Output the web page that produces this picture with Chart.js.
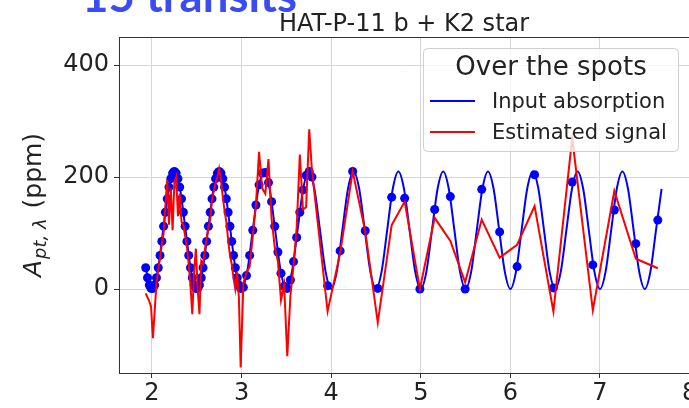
<!DOCTYPE html>
<html>
<head>
<meta charset="utf-8">
<title>HAT-P-11 b + K2 star</title>
<script src="https://cdn.jsdelivr.net/npm/chart.js@4.4.1/dist/chart.umd.min.js"></script>
<style>
    html, body { margin: 0; padding: 0; background: #fff; overflow: hidden; }
    #wrap { width: 689px; height: 408px; overflow: hidden; position: relative; }
    canvas { display: block; }
</style>
</head>
<body>
<div id="wrap"><canvas id="chart" width="700" height="408"></canvas></div>
<script>
// Courbe d'entrée (absorption injectée)
const curveX = [
    1.9375,
    2, 2.0625, 2.125, 2.1875, 2.25, 2.3125, 2.375, 2.4375,
    2.5, 2.5625, 2.625, 2.6875, 2.75, 2.8125, 2.875, 2.9375,
    3, 3.0625, 3.125, 3.1875, 3.25, 3.3125, 3.375, 3.4375,
    3.5, 3.5625, 3.625, 3.6875, 3.75, 3.8125, 3.875, 3.9375,
    4, 4.0625, 4.125, 4.1875, 4.25, 4.3125, 4.375, 4.4375,
    4.5, 4.5625, 4.625, 4.6875, 4.75, 4.8125, 4.875, 4.9375,
    5, 5.0625, 5.125, 5.1875, 5.25, 5.3125, 5.375, 5.4375,
    5.5, 5.5625, 5.625, 5.6875, 5.75, 5.8125, 5.875, 5.9375,
    6, 6.0625, 6.125, 6.1875, 6.25, 6.3125, 6.375, 6.4375,
    6.5, 6.5625, 6.625, 6.6875, 6.75, 6.8125, 6.875, 6.9375,
    7, 7.0625, 7.125, 7.1875, 7.25, 7.3125, 7.375, 7.4375,
    7.5, 7.5625, 7.625, 7.6875
];
const curveY = [
    31,
    0, 31, 105, 179, 210, 179, 105, 31,
    0, 31, 105, 179, 210, 179, 105, 31,
    0, 31, 105, 179, 210, 179, 105, 31,
    0, 31, 105, 179, 210, 179, 105, 31,
    0, 31, 105, 179, 210, 179, 105, 31,
    0, 31, 105, 179, 210, 179, 105, 31,
    0, 31, 105, 179, 210, 179, 105, 31,
    0, 31, 105, 179, 210, 179, 105, 31,
    0, 31, 105, 179, 210, 179, 105, 31,
    0, 31, 105, 179, 210, 179, 105, 31,
    0, 31, 105, 179, 210, 179, 105, 31,
    0, 31, 105, 179
];

// Points échantillonnés (absorption aux dates des transits) et signal estimé
const dotX = [
    1.93, 1.95, 1.97, 1.99, 2.01, 2.03, 2.05, 2.07, 2.09, 2.11, 2.13, 2.15, 2.17, 2.19, 2.21,
    2.23, 2.25, 2.27, 2.29, 2.31, 2.33, 2.35, 2.37, 2.39, 2.41, 2.43, 2.45, 2.47, 2.49,
    2.51, 2.53, 2.55, 2.57, 2.59, 2.61, 2.63, 2.65, 2.67, 2.69, 2.71, 2.73, 2.75, 2.77,
    2.79, 2.81, 2.83, 2.85, 2.87, 2.89, 2.91, 2.93, 2.95, 2.97, 2.99,
    3.02, 3.055, 3.09, 3.125, 3.16, 3.195, 3.23, 3.265, 3.30, 3.335, 3.37, 3.405,
    3.44, 3.475, 3.51, 3.545, 3.58, 3.615, 3.65, 3.685, 3.72, 3.755, 3.785,
    3.96, 4.10, 4.24, 4.38, 4.52, 4.675, 4.82, 4.99, 5.155, 5.33, 5.495,
    5.68, 5.88, 6.075, 6.27, 6.48, 6.69, 6.92, 7.16, 7.40, 7.645
];
const dotBlue = [
    38, 20, 7, 1, 1, 7, 20, 38, 60, 85, 112, 137, 161, 182, 197,
    207, 210, 207, 197, 182, 161, 137, 112, 85, 60, 38, 20, 7, 1,
    1, 7, 20, 38, 60, 85, 112, 137, 161, 182, 197, 207, 210, 207,
    197, 182, 161, 137, 112, 85, 60, 38, 20, 7, 1,
    3, 24, 60, 105, 150, 186, 207, 208, 190, 156, 112, 66,
    28, 5, 1, 16, 49, 92, 137, 177, 203, 210, 200,
    6, 68, 210, 104, 1, 164, 162, 0, 142, 165, 0,
    178, 102, 40, 204, 2, 191, 43, 141, 81, 123
];
const redY = [
    -8, -15, -22, -32, -88, -40, 10, 35, 55, 80, 100, 150, 195, 115, 180,
    105, 190, 200, 130, 170, 120, 115, 95, 75, 45, 5, -45, 30, 72,
    0, -45, 50, 45, 70, 90, 110, 125, 160, 175, 190, 200, 215, 195,
    165, 140, 120, 88, 60, 45, 20, 0, 30, -15, -140,
    10, 30, 40, 95, 150, 245, 180, 170, 232, 125, 75, 50,
    -20, 8, -120, -12, 42, 110, 240, 142, 146, 285, 212,
    -40, 64, 210, 103, -60, 114, 156, 0, 127, 86, 12,
    124, 56, 79, 148, -40, 270, -38, 175, 54, 37
];

const xTicks = [2, 3, 4, 5, 6, 7, 8];
const yTicks = [0, 200, 400];
const legendTitle = 'Over the spots';
const legendLabels = ['Input absorption', 'Estimated signal'];
const legendColors = ['blue', 'red'];

const FONT = '"DejaVu Sans", sans-serif';

function toPoints(xs, ys) {
    return xs.map((x, i) => ({ x: x, y: ys[i] }));
}

// Décor : cadre, titres, étiquette de l'axe Y et légende
const decor = {
    id: 'decor',
    afterDatasetsDraw(chart) {
        const ctx = chart.ctx;
        const a = chart.chartArea;
        ctx.save();
        ctx.strokeStyle = '#333';
        ctx.lineWidth = 1;
        ctx.strokeRect(Math.round(a.left) + 0.5, Math.round(a.top) + 0.5,
            Math.round(a.right - a.left), Math.round(a.bottom - a.top));
        ctx.restore();
    },
    afterDraw(chart) {
        const ctx = chart.ctx;
        const a = chart.chartArea;
        ctx.save();

        // "15 transits" (coupé en haut)
        ctx.fillStyle = '#3a4cf0';
        ctx.textAlign = 'left';
        ctx.textBaseline = 'alphabetic';
        let size = 40;
        ctx.font = 'bold ' + size + 'px Lato, sans-serif';
        size = size * 215 / ctx.measureText('15 transits').width;
        ctx.font = 'bold ' + size + 'px Lato, sans-serif';
        ctx.fillText('15 transits', 82, 12);

        // Titre
        ctx.fillStyle = '#222';
        ctx.textAlign = 'center';
        ctx.font = '24px ' + FONT;
        ctx.fillText('HAT-P-11 b + K2 star', 404, 31);

        // Étiquette Y : A_{pt,λ} (ppm)
        ctx.translate(33, (a.top + a.bottom) / 2);
        ctx.rotate(-Math.PI / 2);
        const fA = 'italic 25px ' + FONT;
        const fSub = 'italic 18px ' + FONT;
        const fRest = '25px ' + FONT;
        ctx.font = fA; const wA = ctx.measureText('A').width;
        ctx.font = fSub; const wSub = ctx.measureText('pt, λ').width + 3;
        ctx.font = fRest; const wRest = ctx.measureText(' (ppm)').width;
        let x0 = -(wA + wSub + wRest) / 2;
        ctx.textAlign = 'left';
        ctx.font = fA; ctx.fillText('A', x0, 8);
        ctx.font = fSub; ctx.fillText('pt, λ', x0 + wA + 1, 13);
        ctx.font = fRest; ctx.fillText(' (ppm)', x0 + wA + wSub, 8);
        ctx.restore();

        // Légende
        ctx.save();
        const lx = 423.5, ly = 48.5, lw = 255, lh = 103, r = 4;
        ctx.beginPath();
        ctx.moveTo(lx + r, ly);
        ctx.arcTo(lx + lw, ly, lx + lw, ly + lh, r);
        ctx.arcTo(lx + lw, ly + lh, lx, ly + lh, r);
        ctx.arcTo(lx, ly + lh, lx, ly, r);
        ctx.arcTo(lx, ly, lx + lw, ly, r);
        ctx.closePath();
        ctx.fillStyle = 'rgba(255,255,255,0.8)';
        ctx.fill();
        ctx.strokeStyle = '#d0d0d0';
        ctx.lineWidth = 1;
        ctx.stroke();

        ctx.fillStyle = '#222';
        ctx.textAlign = 'center';
        ctx.font = '26px ' + FONT;
        ctx.fillText(legendTitle, lx + lw / 2, 75);

        ctx.textAlign = 'left';
        ctx.font = '21px ' + FONT;
        legendLabels.forEach((lab, i) => {
            const yy = 101 + i * 31;
            ctx.strokeStyle = legendColors[i];
            ctx.lineWidth = 2;
            ctx.beginPath();
            ctx.moveTo(430, yy);
            ctx.lineTo(475, yy);
            ctx.stroke();
            ctx.fillStyle = '#222';
            ctx.fillText(lab, 492, yy + 7);
        });
        ctx.restore();
    }
};

const chart = new Chart(document.getElementById('chart'), {
    type: 'scatter',
    data: {
        datasets: [
            {
                label: 'Estimated signal',
                data: toPoints(dotX, redY),
                showLine: true,
                borderColor: 'red',
                borderWidth: 2,
                pointRadius: 0,
                tension: 0,
                order: 1
            },
            {
                label: 'Sampled absorption',
                data: toPoints(dotX, dotBlue),
                showLine: false,
                pointRadius: 4.5,
                backgroundColor: 'blue',
                borderWidth: 0,
                order: 2
            },
            {
                label: 'Input absorption',
                data: toPoints(curveX, curveY),
                showLine: true,
                borderColor: 'blue',
                borderWidth: 2,
                pointRadius: 0,
                cubicInterpolationMode: 'monotone',
                order: 3
            }
        ]
    },
    options: {
        responsive: false,
        animation: false,
        events: [],
        layout: { padding: { left: 0, right: 10.4, top: 37, bottom: 0 } },
        plugins: {
            legend: { display: false },
            tooltip: { enabled: false },
            title: { display: false }
        },
        scales: {
            x: {
                type: 'linear',
                min: 1.632,
                max: 8,
                afterFit: s => { s.height = 35; },
                afterBuildTicks: s => { s.ticks = xTicks.map(v => ({ value: v })); },
                grid: { color: '#d6d6d6', tickColor: '#333', tickLength: 5 },
                border: { color: '#333' },
                ticks: { font: { family: FONT, size: 24 }, color: '#222', padding: 1, maxRotation: 0, autoSkip: false }
            },
            y: {
                min: -150,
                max: 450,
                afterFit: s => { s.width = 119; },
                afterBuildTicks: s => { s.ticks = yTicks.map(v => ({ value: v })); },
                grid: { color: '#d6d6d6', tickColor: '#333', tickLength: 5 },
                border: { color: '#333' },
                ticks: { font: { family: FONT, size: 24 }, color: '#222', padding: 5 }
            }
        }
    },
    plugins: [decor]
});
</script>
</body>
</html>
